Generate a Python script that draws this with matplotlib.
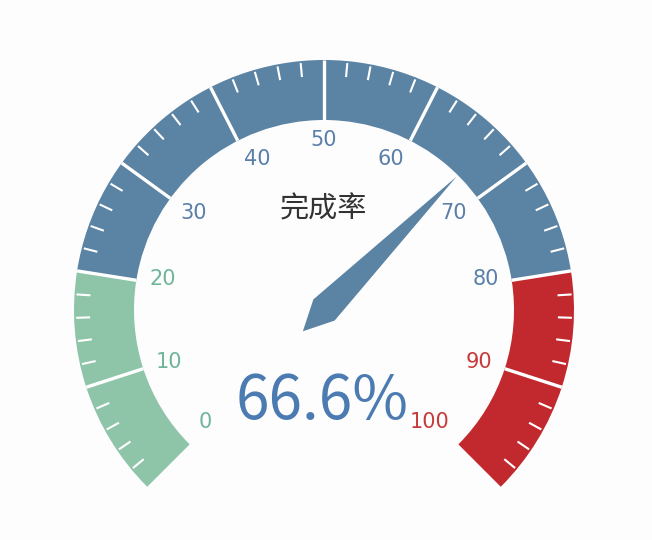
import numpy as np
import matplotlib
matplotlib.use('Agg')
import matplotlib.pyplot as plt
from matplotlib.patches import Wedge, Polygon

plt.rcParams['font.family'] = ['Noto Sans CJK SC', 'DejaVu Sans']

# gauge data
title = '完成率'
value = 66.6
min_val, max_val = 0, 100
split_number = 10
band_stops = [0.2, 0.8, 1.0]
band_colors = ['#8ec5a9', '#5b83a3', '#c2292e']
label_colors = ['#6fb597', '#5a7fa8', '#c83a3a']
value_color = '#4b7bb1'

# geometry (pixels, y up)
W, H = 652, 540
cx, cy = 324, 230
r_out, r_in = 250, 190
r_label = 177
start_ang, end_ang = 225, -45


def to_angle(v):
    frac = (v - min_val) / (max_val - min_val)
    return start_ang + (end_ang - start_ang) * frac


def band_index(v):
    frac = (v - min_val) / (max_val - min_val)
    for i, s in enumerate(band_stops):
        if frac <= s + 1e-9:
            return i
    return len(band_stops) - 1


fig = plt.figure(figsize=(W / 100, H / 100), dpi=100)
fig.patch.set_facecolor('#fdfdfe')
ax = fig.add_axes([0, 0, 1, 1])
ax.set_xlim(0, W)
ax.set_ylim(0, H)
ax.set_aspect('equal')
ax.axis('off')

# coloured bands
prev = 0.0
for stop, col in zip(band_stops, band_colors):
    a1 = to_angle(min_val + stop * (max_val - min_val))
    a2 = to_angle(min_val + prev * (max_val - min_val))
    ax.add_patch(Wedge((cx, cy), r_out, a1, a2, width=r_out - r_in,
                       facecolor=col, edgecolor='none'))
    prev = stop

# split lines, minor ticks, labels
step = (max_val - min_val) / split_number
for i in range(split_number + 1):
    v = min_val + i * step
    th = np.radians(to_angle(v))
    c, s = np.cos(th), np.sin(th)
    if 0 < i < split_number:
        ax.plot([cx + r_in * c, cx + r_out * c], [cy + r_in * s, cy + r_out * s],
                color='white', lw=2.4, solid_capstyle='butt', zorder=3)
    # label anchored like echarts: left/right side aligned to the inside
    ha = 'left' if c < -0.4 else ('right' if c > 0.4 else 'center')
    va = 'top' if s > 0.4 else ('bottom' if s < -0.4 else 'center')
    ax.text(cx + r_label * c, cy + r_label * s + 3, f'{v:g}', ha=ha, va=va,
            fontsize=15, family='DejaVu Sans', color=label_colors[band_index(v)], zorder=4)
    if i < split_number:
        for k in range(1, 5):
            tv = v + k * step / 5
            t = np.radians(to_angle(tv))
            tc, ts = np.cos(t), np.sin(t)
            ax.plot([cx + (r_out - 2) * tc, cx + (r_out - 16) * tc],
                    [cy + (r_out - 2) * ts, cy + (r_out - 16) * ts],
                    color='white', lw=1.5, solid_capstyle='butt', zorder=3)

# pointer
th = np.radians(to_angle(value))
pw, pl = 15, 188
px = cx - np.cos(th) * pw * 2
py = cy - np.sin(th) * pw * 2
perp = th - np.pi / 2
pts = [(px, py),
       (cx + np.cos(perp) * pw, cy + np.sin(perp) * pw),
       (cx + np.cos(th) * pl, cy + np.sin(th) * pl),
       (cx - np.cos(perp) * pw, cy - np.sin(perp) * pw)]
ax.add_patch(Polygon(pts, closed=True, facecolor=band_colors[band_index(value)],
                     edgecolor='none', zorder=5))

# title and value
ax.text(cx - 1, 330, title, ha='center', va='center', fontsize=21, color='#333333', zorder=6)
ax.text(cx - 2, 138, f'{value:g}%', ha='center', va='center', fontsize=43.5,
        color=value_color, zorder=6)

fig.savefig('out.png', dpi=100, facecolor=fig.get_facecolor())
